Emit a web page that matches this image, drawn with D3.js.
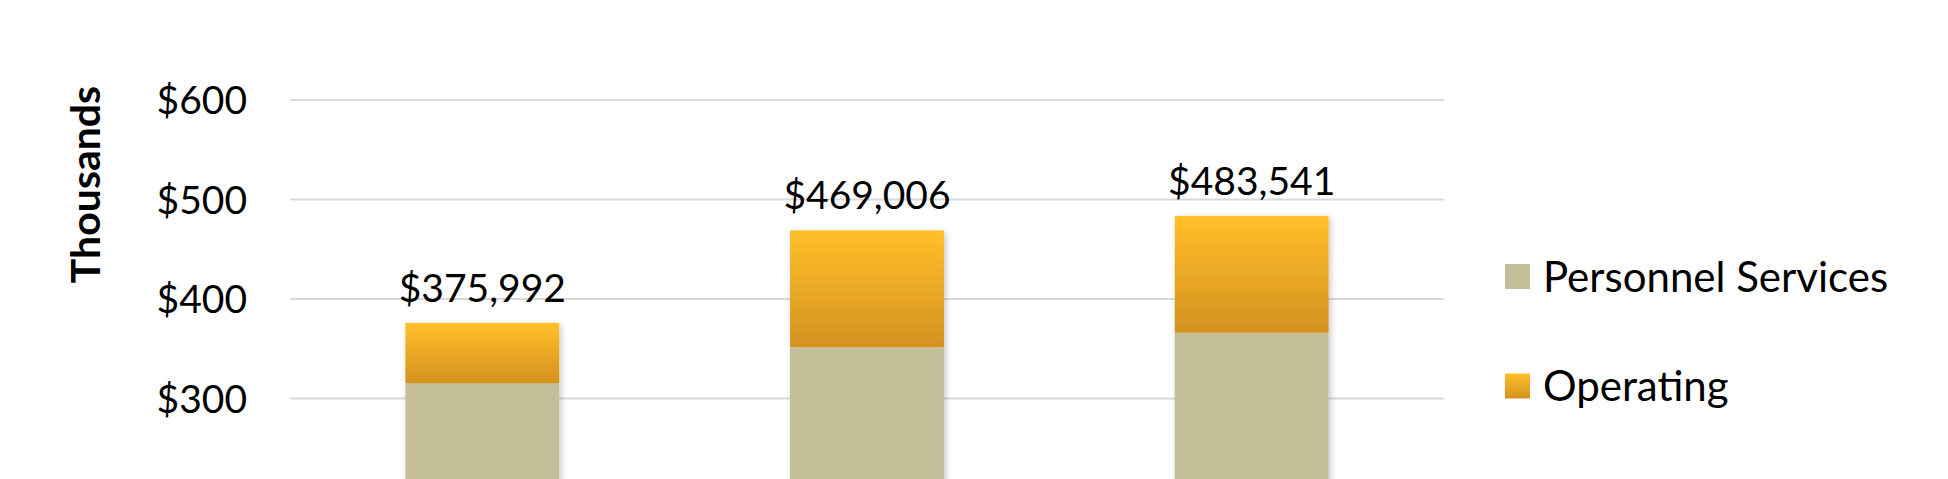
<!DOCTYPE html>
<html>
<head>
<meta charset="utf-8">
<script src="https://cdn.jsdelivr.net/npm/d3@7/dist/d3.min.js"></script>
<style>
  html, body { margin: 0; padding: 0; background: #fff; overflow: hidden; }
  svg { display: block; }
</style>
</head>
<body>
<svg id="chart" width="1948" height="479"></svg>
<script>
// ---- data (thousands of dollars) ----
const categories = ["Year 1", "Year 2", "Year 3"];
const seriesNames = ["Personnel Services", "Operating"];
const personnel = [315.3, 351.6, 366.1];
const totals = [375.992, 469.006, 483.541];
const operating = totals.map((t, i) => +(t - personnel[i]).toFixed(3));
const totalLabels = ["$375,992", "$469,006", "$483,541"];
const yTicks = [200, 300, 400, 500, 600];
const yAxisTitle = "Thousands";

const svg = d3.select("#chart");
const FONT = "Lato, 'Open Sans', sans-serif";

const x = d3.scaleBand().domain(categories).range([290, 1444]).paddingInner(0.6).paddingOuter(0.3);
const y = d3.scaleLinear().domain([0, 600]).range([697, 100]);

const defs = svg.append("defs");
const grad = defs.append("linearGradient").attr("id", "opGrad").attr("x1", 0).attr("y1", 0).attr("x2", 0).attr("y2", 1);
grad.append("stop").attr("offset", "0%").attr("stop-color", "#ffc02a");
grad.append("stop").attr("offset", "100%").attr("stop-color", "#d4911f");
const f = defs.append("filter").attr("id", "shadow").attr("x", "-20%").attr("y", "-20%").attr("width", "140%").attr("height", "140%");
f.append("feDropShadow").attr("dx", 2).attr("dy", 2).attr("stdDeviation", 3).attr("flood-color", "#000").attr("flood-opacity", 0.22);

// gridlines
svg.append("g").selectAll("line").data(yTicks).join("line")
  .attr("x1", 290).attr("x2", 1444)
  .attr("y1", d => y(d)).attr("y2", d => y(d))
  .attr("stroke", "#d9d9d9").attr("stroke-width", 2);

// y axis labels via d3 axis
const yAxis = d3.axisLeft(y).tickValues(yTicks).tickSize(0).tickPadding(43).tickFormat(d => "$" + d);
const gy = svg.append("g").attr("transform", "translate(290,0)").call(yAxis);
gy.select(".domain").remove();
gy.selectAll("text").attr("font-family", FONT).attr("font-size", 39).attr("fill", "#000").attr("dy", "0.35em");

// axis title
svg.append("text")
  .attr("transform", `translate(100,184.5) rotate(-90)`)
  .attr("text-anchor", "middle")
  .attr("font-family", FONT).attr("font-weight", "bold").attr("font-size", 41)
  .attr("fill", "#000")
  .text(yAxisTitle);

// stacked bars
const rows = categories.map((c, i) => ({ cat: c, "Personnel Services": personnel[i], "Operating": operating[i] }));
const stack = d3.stack().keys(seriesNames)(rows);
const fills = { "Personnel Services": "#c4be99", "Operating": "url(#opGrad)" };

const barsG = svg.append("g").attr("filter", "url(#shadow)");
stack.forEach(layer => {
  barsG.append("g").selectAll("rect").data(layer).join("rect")
    .attr("x", d => x(d.data.cat))
    .attr("width", x.bandwidth())
    .attr("y", d => y(d[1]))
    .attr("height", d => y(d[0]) - y(d[1]))
    .attr("fill", fills[layer.key]);
});

// total labels
svg.append("g").selectAll("text").data(categories).join("text")
  .attr("x", d => x(d) + x.bandwidth() / 2)
  .attr("y", (d, i) => y(totals[i]) - 21)
  .attr("text-anchor", "middle")
  .attr("font-family", FONT).attr("font-size", 39).attr("fill", "#000")
  .text((d, i) => totalLabels[i]);

// legend
const legend = svg.append("g");
const legY = [276.5, 386];
seriesNames.forEach((name, i) => {
  legend.append("rect").attr("x", 1505).attr("y", legY[i] - 12.5).attr("width", 25).attr("height", 25)
    .attr("fill", fills[name]);
  legend.append("text").attr("x", 1543).attr("y", legY[i]).attr("dy", "0.36em")
    .attr("font-family", FONT).attr("font-size", 42).attr("fill", "#000").text(name);
});
</script>
</body>
</html>
